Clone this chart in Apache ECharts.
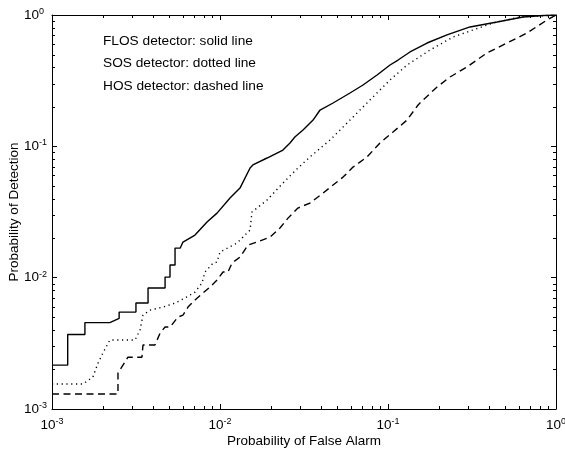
<!DOCTYPE html>
<html>
<head>
<meta charset="utf-8">
<script src="https://cdn.jsdelivr.net/npm/echarts@6/dist/echarts.min.js"></script>
<style>
html,body{margin:0;padding:0;background:#fff;}
#c{width:565px;height:449px;}
</style>
</head>
<body>
<div id="c"></div>
<script>
// ---- Data (Pfa, Pd) ----
const flosCurve = [
  [0.001,0.00216],[0.00124,0.00216],[0.00124,0.00369],[0.00157,0.00369],[0.00157,0.00455],
  [0.00221,0.00455],[0.00251,0.0049],[0.00251,0.00547],[0.00316,0.00547],[0.00316,0.00641],
  [0.00373,0.00641],[0.00373,0.00834],[0.00471,0.00834],[0.00471,0.0101],[0.00504,0.0101],
  [0.00504,0.0125],[0.0054,0.0125],[0.0054,0.0168],[0.0058,0.0168],[0.00602,0.01867],
  [0.0071,0.0211],[0.00837,0.0265],[0.0096,0.031],[0.01147,0.0404],[0.01315,0.0481],
  [0.0151,0.0684],[0.0157,0.0721],[0.01905,0.0815],[0.0237,0.0937],[0.0261,0.106],
  [0.0279,0.1177],[0.0312,0.1331],[0.0358,0.1585],[0.0394,0.189],[0.0471,0.2138],
  [0.0594,0.2547],[0.071,0.293],[0.0861,0.349],[0.1028,0.416],[0.1148,0.454],
  [0.1352,0.523],[0.1708,0.612],[0.2245,0.705],[0.3076,0.811],[0.4457,0.885],
  [0.637,0.966],[0.837,0.99],[1,1]
];
const sosCurve = [
  [0.001,0.00155],[0.00153,0.00155],[0.00175,0.00175],[0.00188,0.00224],[0.00201,0.00267],
  [0.00221,0.00335],[0.00312,0.00335],[0.00334,0.00399],[0.00348,0.00519],[0.00383,0.00566],
  [0.00458,0.00597],[0.0054,0.0064],[0.00619,0.007],[0.0071,0.00777],[0.00781,0.0091],
  [0.00814,0.01104],[0.00909,0.0129],[0.0096,0.01314],[0.01,0.01567],[0.01262,0.01835],
  [0.0151,0.02306],[0.0155,0.0316],[0.01905,0.039],[0.0237,0.0525],[0.0291,0.0684],
  [0.0343,0.083],[0.0452,0.1117],[0.0594,0.1585],[0.0781,0.2253],[0.1028,0.32],
  [0.1298,0.416],[0.1778,0.541],[0.244,0.68],[0.3206,0.769],[0.4217,0.869],
  [0.611,0.966],[1,1]
];
const hosCurve = [
  [0.001,0.0013],[0.00247,0.0013],[0.00247,0.00188],[0.00283,0.00248],[0.00343,0.00248],
  [0.00348,0.00307],[0.0041,0.00307],[0.0044,0.00379],[0.00471,0.00421],[0.00504,0.00421],
  [0.00562,0.00501],[0.00602,0.00519],[0.00645,0.00597],[0.0071,0.00676],[0.00792,0.00764],
  [0.00872,0.00848],[0.0096,0.0096],[0.01042,0.01104],[0.01116,0.01104],[0.01178,0.0129],
  [0.01315,0.01435],[0.01468,0.0177],[0.0166,0.01867],[0.01986,0.0204],[0.02275,0.0239],
  [0.0254,0.0284],[0.0291,0.0339],[0.0343,0.037],[0.041,0.044],[0.0471,0.0507],
  [0.054,0.0583],[0.0619,0.0695],[0.075,0.083],[0.0896,0.106],[0.1071,0.1285],
  [0.1298,0.1585],[0.151,0.2065],[0.1616,0.2253],[0.196,0.283],[0.234,0.3373],
  [0.295,0.402],[0.388,0.514],[0.511,0.612],[0.672,0.73],[0.884,0.916],[1,1]
];
const tickExponents = [-3, -2, -1, 0];
const minorTickValues = [
  0.002,0.003,0.004,0.005,0.006,0.007,0.008,0.009,
  0.02,0.03,0.04,0.05,0.06,0.07,0.08,0.09,
  0.2,0.3,0.4,0.5,0.6,0.7,0.8,0.9
];
const legendLines = [
  'FLOS detector: solid line',
  'SOS detector: dotted line',
  'HOS detector: dashed line'
];
const xAxisTitle = 'Probability of False Alarm';
const yAxisTitle = 'Probability of Detection';

// ---- Chart ----
const FONT = '"Liberation Sans", Arial, Helvetica, sans-serif';
const chart = echarts.init(document.getElementById('c'), null, {renderer: 'canvas'});

function tickLabel(v) {
  const e = Math.round(Math.log10(v));
  if (tickExponents.indexOf(e) < 0) return '';
  return '{b|10}{s|' + e + '}';
}
const richLabel = {
  b: {fontSize: 13.5, fontFamily: FONT, color: '#000', lineHeight: 16},
  s: {fontSize: 9, fontFamily: FONT, color: '#000', lineHeight: 10, verticalAlign: 'top', padding: [0, 0, 4, 0]}
};

function baseLogAxis(extra) {
  return Object.assign({
    type: 'log', logBase: 10, min: 0.001, max: 1,
    axisLine: {show: true, lineStyle: {color: '#000', width: 1}},
    axisTick: {show: true, inside: true, length: 5, lineStyle: {color: '#000', width: 1}},
    splitLine: {show: false},
    minorTick: {show: false},
    minorSplitLine: {show: false}
  }, extra);
}

const lineBase = {type: 'line', showSymbol: false, symbol: 'none', animation: false, xAxisIndex: 0, yAxisIndex: 0, z: 3};

const option = {
  backgroundColor: '#fff',
  animation: false,
  grid: {left: 52, top: 15, right: 9, bottom: 40, containLabel: false, outerBoundsMode: 'none'},
  xAxis: [
    baseLogAxis({
      position: 'bottom',
      name: xAxisTitle, nameLocation: 'middle', nameGap: 25, nameMoveOverlap: false,
      nameTextStyle: {fontSize: 13.5, fontFamily: FONT, color: '#000'},
      axisLabel: {show: true, margin: 8, formatter: tickLabel, rich: richLabel, showMinLabel: true, showMaxLabel: true, hideOverlap: false}
    }),
    baseLogAxis({position: 'top', axisLabel: {show: false}})
  ],
  yAxis: [
    baseLogAxis({
      position: 'left',
      name: yAxisTitle, nameLocation: 'middle', nameGap: 31, nameMoveOverlap: false,
      nameTextStyle: {fontSize: 13.5, fontFamily: FONT, color: '#000'},
      axisLabel: {show: true, margin: 28, align: 'left', formatter: tickLabel, rich: richLabel, showMinLabel: true, showMaxLabel: true, hideOverlap: false}
    }),
    baseLogAxis({position: 'right', axisLabel: {show: false}})
  ],
  graphic: legendLines.map((t, i) => ({
    type: 'text', left: 103, top: 34 + i * 22.7,
    style: {text: t, fontSize: 13.7, fontFamily: FONT, fill: '#000'}
  })),
  series: [
    Object.assign({}, lineBase, {name: 'FLOS', data: flosCurve, lineStyle: {color: '#000', width: 1.4, type: 'solid'}}),
    Object.assign({}, lineBase, {name: 'SOS', data: sosCurve, lineStyle: {color: '#000', width: 1.4, type: [1.2, 3.6], cap: 'butt'}}),
    Object.assign({}, lineBase, {name: 'HOS', data: hosCurve, lineStyle: {color: '#000', width: 1.4, type: [7, 4.5]}}),
    {
      type: 'custom', name: 'xMinor', xAxisIndex: 0, yAxisIndex: 0, clip: false, silent: true, z: 4,
      data: minorTickValues.map(v => [v, 0.01]),
      renderItem: function (params, api) {
        const p = api.coord([api.value(0), api.value(1)]);
        const cs = params.coordSys;
        const x = Math.round(p[0]) + 0.5;
        const b = cs.y + cs.height, t = cs.y;
        return {type: 'group', children: [
          {type: 'line', shape: {x1: x, y1: b, x2: x, y2: b - 3}, style: {stroke: '#000', lineWidth: 1}},
          {type: 'line', shape: {x1: x, y1: t, x2: x, y2: t + 3}, style: {stroke: '#000', lineWidth: 1}}
        ]};
      }
    },
    {
      type: 'custom', name: 'yMinor', xAxisIndex: 0, yAxisIndex: 0, clip: false, silent: true, z: 4,
      data: minorTickValues.map(v => [0.01, v]),
      renderItem: function (params, api) {
        const p = api.coord([api.value(0), api.value(1)]);
        const cs = params.coordSys;
        const y = Math.round(p[1]) + 0.5;
        const l = cs.x, r = cs.x + cs.width;
        return {type: 'group', children: [
          {type: 'line', shape: {x1: l, y1: y, x2: l + 3, y2: y}, style: {stroke: '#000', lineWidth: 1}},
          {type: 'line', shape: {x1: r, y1: y, x2: r - 3, y2: y}, style: {stroke: '#000', lineWidth: 1}}
        ]};
      }
    }
  ]
};
chart.setOption(option);
</script>
</body>
</html>
